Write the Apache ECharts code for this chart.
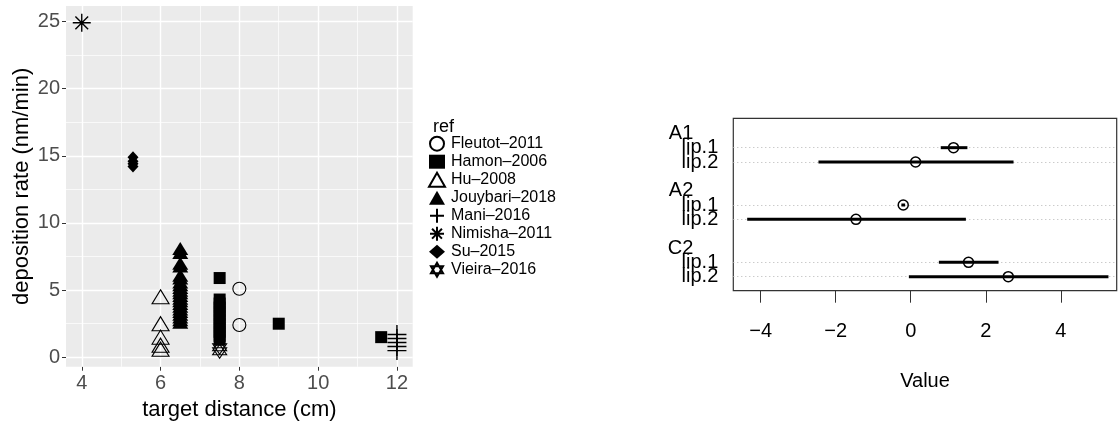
<!DOCTYPE html>
<html>
<head>
<meta charset="utf-8">
<script src="https://cdn.jsdelivr.net/npm/echarts@6/dist/echarts.min.js"></script>
<style>
  html, body { margin: 0; padding: 0; background: #ffffff; }
  #chart { width: 1118px; height: 425px; }
</style>
</head>
<body>
<div id="chart"></div>
<script>
// ---- Left panel: deposition rate vs target distance, one series per reference ----
const fleutotX = [8, 8];
const fleutotY = [5.1, 2.4];

const hamonX = [7.5, 7.5, 7.5, 7.5, 7.5, 7.5, 7.5, 7.5, 7.5, 7.5, 7.5, 7.5, 9, 11.6];
const hamonY = [5.9, 4.3, 4.0, 3.7, 3.4, 3.1, 2.8, 2.5, 2.2, 1.9, 1.6, 1.3, 2.5, 1.5];

const huX = [6, 6, 6, 6, 6];
const huY = [4.5, 2.5, 1.5, 0.9, 0.6];

const jouybariX = [6.5, 6.5, 6.5, 6.5, 6.5, 6.5, 6.5, 6.5, 6.5, 6.5, 6.5, 6.5, 6.5, 6.5, 6.5, 6.5, 6.5, 6.5, 6.5, 6.5, 6.5, 6.5];
const jouybariY = [8.1, 7.8, 7.0, 6.8, 6.1, 5.9, 5.6, 5.4, 5.2, 5.0, 4.8, 4.6, 4.4, 4.2, 4.0, 3.8, 3.6, 3.4, 3.2, 3.0, 2.8, 2.6];

const maniX = [12, 12, 12, 12, 12];
const maniY = [1.7, 1.4, 1.1, 0.8, 0.5];

const nimishaX = [4];
const nimishaY = [24.9];

const suX = [5.3, 5.3, 5.3, 5.3];
const suY = [14.9, 14.6, 14.4, 14.2];

const vieiraX = [7.5, 7.5];
const vieiraY = [0.75, 0.45];

const refNames = ['Fleutot\u20132011', 'Hamon\u20132006', 'Hu\u20132008', 'Jouybari\u20132018',
                  'Mani\u20132016', 'Nimisha\u20132011', 'Su\u20132015', 'Vieira\u20132016'];

const xTicks = [4, 6, 8, 10, 12];
const xMinor = [5, 7, 9, 11];
const yTicks = [0, 5, 10, 15, 20, 25];
const yMinor = [2.5, 7.5, 12.5, 17.5, 22.5];

// ---- Right panel: coefficient estimates with intervals ----
const groups = ['A1', 'A2', 'C2'];
const terms = ['lip.1', 'lip.2'];
const estimates = [1.14, 0.13, -0.20, -1.46, 1.54, 2.60];
const lower     = [0.80, -2.46, -0.25, -4.36, 0.75, -0.05];
const upper     = [1.51, 2.74, -0.15, 1.47, 2.34, 5.27];
const valueTicks = [-4, -2, 0, 2, 4];

const FONT = 'Liberation Sans, Arial, Helvetica, sans-serif';

function pairs(xs, ys) { return xs.map((x, i) => [x, ys[i]]); }

const plusPath = 'path://M0,-10L0,10M-10,0L10,0';
const starPath = 'path://M0,-10L0,10M-10,0L10,0M-7.07,-7.07L7.07,7.07M-7.07,7.07L7.07,-7.07';
const davidPath = 'path://M0,-10L8.66,5L-8.66,5ZM0,10L8.66,-5L-8.66,-5Z';

const hollow = { color: 'rgba(0,0,0,0)', borderColor: '#000', borderWidth: 1.1, opacity: 1 };
const stroked = { color: 'rgba(0,0,0,0)', borderColor: '#000', borderWidth: 1.4, opacity: 1 };
const filled = { color: '#000', borderWidth: 0, opacity: 1 };

function refSeries(name, data, symbol, size, style) {
  return {
    name: name, type: 'scatter', xAxisIndex: 0, yAxisIndex: 0,
    data: data, symbol: symbol, symbolSize: size, itemStyle: style,
    z: 3, animation: false, emphasis: { disabled: true }
  };
}

// rows of the coefficient panel: group label row, then one row per term
const rowsPerGroup = terms.length + 2;
const coefRows = [];
const coefSegs = [];
groups.forEach((g, gi) => {
  terms.forEach((t, ti) => {
    const k = gi * terms.length + ti;
    const row = gi * rowsPerGroup + ti + 1;
    coefRows.push([estimates[k], row]);
    coefSegs.push([lower[k], upper[k], row]);
  });
});
const termRows = coefRows.map(r => r[1]);
const groupRows = groups.map((g, gi) => gi * rowsPerGroup);

const chart = echarts.init(document.getElementById('chart'), null, { renderer: 'canvas' });

const gridLineData = []
  .concat(xMinor.map(v => ({ xAxis: v, lineStyle: { width: 0.7 } })))
  .concat(yMinor.map(v => ({ yAxis: v, lineStyle: { width: 0.7 } })))
  .concat(xTicks.map(v => ({ xAxis: v, lineStyle: { width: 1.4 } })))
  .concat(yTicks.map(v => ({ yAxis: v, lineStyle: { width: 1.4 } })));

// a hidden row axis in the coefficient panel that only carries text labels
function rowAxis(values, labels, margin) {
  return {
    gridIndex: 1, type: 'value', inverse: true, min: -1.05, max: 10.98,
    position: 'left', offset: 0,
    splitLine: { show: false }, axisLine: { show: false, onZero: false }, axisTick: { show: false },
    axisLabel: {
      customValues: values, margin: margin,
      color: '#000', fontSize: 20, fontFamily: FONT,
      showMinLabel: true, showMaxLabel: true, hideOverlap: false,
      formatter: v => labels[values.indexOf(v)]
    }
  };
}

const yAxes = [
  { gridIndex: 0, type: 'value', min: -0.7, max: 26.15, position: 'left',
    splitLine: { show: false }, axisLine: { show: false, onZero: false },
    axisTick: { show: true, length: 4, lineStyle: { color: '#333', width: 1 }, customValues: yTicks },
    axisLabel: { customValues: yTicks, color: '#4d4d4d', fontSize: 20, margin: 6, fontFamily: FONT,
                 showMinLabel: true, showMaxLabel: true },
    name: 'deposition rate (nm/min)', nameLocation: 'middle', nameGap: 33, nameRotate: 90,
    nameTextStyle: { fontFamily: FONT, fontSize: 22, color: '#000' } },
  rowAxis(groupRows, groups, 40)
];
terms.forEach((t, ti) => {
  const rows = groupRows.map(r => r + ti + 1);
  yAxes.push(rowAxis(rows, rows.map(() => t), 15));
});

const option = {
  animation: false,
  textStyle: { fontFamily: FONT },
  title: {
    text: 'ref', left: 428, top: 113,
    textStyle: { fontFamily: FONT, fontSize: 18, fontWeight: 'normal', color: '#000' }
  },
  legend: {
    orient: 'vertical', left: 428, top: 135.7, padding: 0,
    itemWidth: 16, itemHeight: 14, itemGap: 2,
    selectedMode: false,
    data: refNames,
    textStyle: { fontFamily: FONT, fontSize: 16, color: '#000', padding: [0, 0, 0, 1] }
  },
  grid: [
    { left: 66, top: 6, width: 346.7, height: 360.7, show: true,
      backgroundColor: '#EBEBEB', borderWidth: 0, outerBoundsMode: 'none', containLabel: false },
    { left: 733.3, top: 118.3, width: 383.4, height: 172.4, show: true,
      backgroundColor: '#ffffff', borderColor: '#333', borderWidth: 1.2,
      outerBoundsMode: 'none', containLabel: false }
  ],
  xAxis: [
    { gridIndex: 0, type: 'value', min: 3.6, max: 12.4, position: 'bottom',
      splitLine: { show: false }, axisLine: { show: false, onZero: false },
      axisTick: { show: true, length: 4, lineStyle: { color: '#333', width: 1 }, customValues: xTicks },
      axisLabel: { customValues: xTicks, color: '#4d4d4d', fontSize: 20, margin: 7, fontFamily: FONT,
                   showMinLabel: true, showMaxLabel: true },
      name: 'target distance (cm)', nameLocation: 'middle', nameGap: 24,
      nameTextStyle: { fontFamily: FONT, fontSize: 22, color: '#000' } },
    { gridIndex: 1, type: 'value', min: -4.73, max: 5.49, position: 'bottom',
      splitLine: { show: false }, axisLine: { show: false, onZero: false },
      axisTick: { show: true, length: 12, lineStyle: { color: '#333', width: 1 }, customValues: valueTicks },
      axisLabel: { customValues: valueTicks, color: '#000', fontSize: 20, margin: 31, fontFamily: FONT,
                   showMinLabel: true, showMaxLabel: true,
                   formatter: v => String(v).replace('-', '\u2212') },
      name: 'Value', nameLocation: 'middle', nameGap: 81,
      nameTextStyle: { fontFamily: FONT, fontSize: 20, color: '#000' } }
  ],
  yAxis: yAxes,
  series: [
    // panel grid lines
    { type: 'scatter', xAxisIndex: 0, yAxisIndex: 0, data: [], z: 1, silent: true,
      markLine: { z: 1, silent: true, symbol: ['none', 'none'], label: { show: false },
                  lineStyle: { color: '#ffffff', type: 'solid' }, data: gridLineData, animation: false } },
    refSeries(refNames[0], pairs(fleutotX, fleutotY), 'circle', 13, hollow),
    refSeries(refNames[1], pairs(hamonX, hamonY), 'rect', 12, filled),
    refSeries(refNames[2], pairs(huX, huY), 'triangle', [17, 14], hollow),
    refSeries(refNames[3], pairs(jouybariX, jouybariY), 'triangle', [16, 13], filled),
    refSeries(refNames[4], pairs(maniX, maniY), plusPath, 19, stroked),
    refSeries(refNames[5], pairs(nimishaX, nimishaY), starPath, 18, stroked),
    refSeries(refNames[6], pairs(suX, suY), 'diamond', [11, 12], filled),
    refSeries(refNames[7], pairs(vieiraX, vieiraY), davidPath, 14, hollow),

    // dotted guide lines on each term row
    { type: 'scatter', xAxisIndex: 1, yAxisIndex: 1, data: [], z: 1, silent: true,
      markLine: { z: 1, silent: true, symbol: ['none', 'none'], label: { show: false },
                  lineStyle: { color: '#b5b5b5', type: [1, 3], width: 1 },
                  data: termRows.map(r => ({ yAxis: r })), animation: false } },
    // interval bars
    { type: 'custom', xAxisIndex: 1, yAxisIndex: 1, data: coefSegs, z: 2, silent: true,
      encode: { x: [0, 1], y: 2 },
      renderItem: (params, api) => {
        const a = api.coord([api.value(0), api.value(2)]);
        const b = api.coord([api.value(1), api.value(2)]);
        return { type: 'line', shape: { x1: a[0], y1: a[1], x2: b[0], y2: b[1] },
                 style: { stroke: '#000', lineWidth: 3, lineCap: 'butt' } };
      } },
    // point estimates
    { type: 'scatter', xAxisIndex: 1, yAxisIndex: 1, data: coefRows, z: 3, silent: true,
      symbol: 'circle', symbolSize: 10,
      itemStyle: { color: 'rgba(0,0,0,0)', borderColor: '#000', borderWidth: 1.5, opacity: 1 } }
  ]
};

chart.setOption(option);
</script>
</body>
</html>
